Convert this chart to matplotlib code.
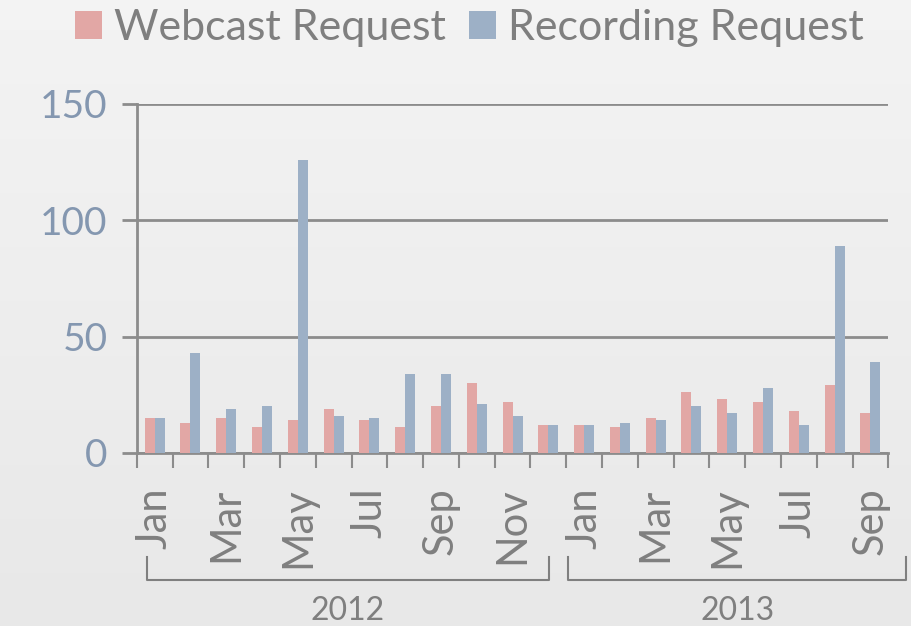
import numpy as np
import matplotlib.pyplot as plt

months = ["Jan", "Feb", "Mar", "Apr", "May", "Jun", "Jul", "Aug", "Sep", "Oct", "Nov", "Dec",
          "Jan", "Feb", "Mar", "Apr", "May", "Jun", "Jul", "Aug", "Sep"]
webcast = [15, 13, 15, 11, 14, 19, 14, 11, 20, 30, 22, 12,
           12, 11, 15, 26, 23, 22, 18, 29, 17]
recording = [15, 43, 19, 20, 126, 16, 15, 34, 34, 21, 16, 12,
             12, 13, 14, 20, 17, 28, 12, 89, 39]
years = ["2012", "2013"]
year_spans = [(0, 11), (12, 20)]

plt.rcParams['font.family'] = ['Lato', 'DejaVu Sans']
grey = '#7f7f7f'
c_web = '#e2a7a5'
c_rec = '#9db0c6'

fig = plt.figure(figsize=(9.12, 6.26), dpi=100)

# soft vertical gradient behind everything
bg = fig.add_axes([0, 0, 1, 1], zorder=-10)
grad = np.linspace(0, 1, 256).reshape(-1, 1)
top = np.array([0.955, 0.955, 0.955])
bot = np.array([0.91, 0.91, 0.91])
img = top + (bot - top) * grad[:, :, None]
bg.imshow(img * np.ones((1, 2, 1)), aspect='auto', extent=[0, 1, 0, 1], origin='upper')
bg.axis('off')

ax = fig.add_axes([0.150, 0.2764, 0.824, 0.5576])
ax.set_facecolor('none')

x = np.arange(len(months))
w = 0.28
ax.bar(x - w / 2, webcast, w, color=c_web, label='Webcast Request', zorder=3)
ax.bar(x + w / 2, recording, w, color=c_rec, label='Recording Request', zorder=3)

ax.set_xlim(-0.5, len(months) - 0.5)
ax.set_ylim(0, 150)
ax.set_yticks([0, 50, 100, 150])
ax.grid(axis='y', color='#8c8c8c', linewidth=2, zorder=1)
for s in ['top', 'right']:
    ax.spines[s].set_visible(False)
for s in ['left', 'bottom']:
    ax.spines[s].set_color('#8c8c8c')
    ax.spines[s].set_linewidth(2)
ax.tick_params(axis='y', length=11, width=2, color='#8c8c8c', labelsize=28,
               labelcolor='#8497b0', pad=10)

ax.set_xticks(x[::2])
ax.set_xticklabels(months[::2], rotation=90, fontsize=30, color=grey)
ax.tick_params(axis='x', which='major', length=0, pad=25)
ax.set_xticks(np.arange(-0.5, len(months)), minor=True)
ax.tick_params(axis='x', which='minor', length=11, width=1.5, color='#8c8c8c')

tr = ax.get_xaxis_transform()
bracket_ends = [(-0.22, 0.02), (-0.45, 1.0)]
for yr, (a, b), (da, db) in zip(years, year_spans, bracket_ends):
    x0, x1 = a + da, b + db
    ax.plot([x0, x0, x1, x1], [-0.298, -0.364, -0.364, -0.298], transform=tr,
            color=grey, lw=1.5, clip_on=False)
    ax.text((x0 + x1) / 2, -0.452, yr, transform=tr, ha='center', va='center',
            fontsize=23, color=grey)

leg = fig.legend(loc='center', bbox_to_anchor=(0.515, 0.955), ncol=2, frameon=False,
                 fontsize=31, labelcolor=grey, handlelength=0.63, handleheight=0.63,
                 handletextpad=0.28, columnspacing=0.53)

fig.savefig('out.png', dpi=100)
